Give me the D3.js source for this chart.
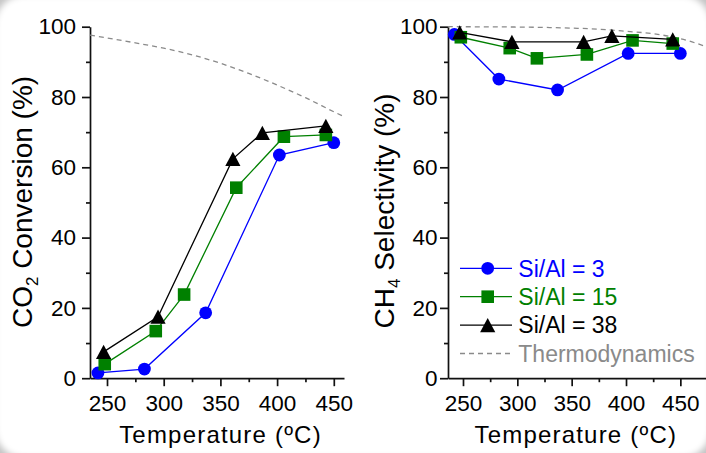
<!DOCTYPE html>
<html lang="en">
<head>
<meta charset="UTF-8">
<title>CO2 conversion and CH4 selectivity</title>
<script src="https://d3js.org/d3.v7.min.js"></script>
<style>
    body { margin: 0; background: #fff; }
    svg { display: block; font-family: 'Liberation Sans', Arial, sans-serif; }
</style>
</head>
<body>
<svg width="706" height="453"></svg>
<script>
    // values
    const xTicks = [250, 300, 350, 400, 450];
    const xMinor = [275, 325, 375, 425];
    const yTicks = [0, 20, 40, 60, 80, 100];
    const yMinor = [10, 30, 50, 70, 90];

    const tempSi3 = [242, 283, 337, 402, 450];
    const convSi3 = [1.5, 2.6, 18.6, 63.5, 67.0];
    const selSi3 = [97.8, 85.1, 82.0, 92.4, 92.4];

    const tempSi15 = [248, 293, 318, 364, 406, 443];
    const convSi15 = [4.0, 13.4, 23.8, 54.2, 68.7, 69.2];
    const selSi15 = [97.0, 93.9, 91.0, 92.1, 96.1, 95.2];

    const tempSi38 = [247, 295, 361, 387, 443];
    const convSi38 = [7.5, 17.5, 62.4, 69.8, 71.8];
    const selSi38 = [98.4, 95.7, 95.7, 97.4, 96.4];

    const thermoTempConv = [235, 275, 300, 325, 350, 375, 400, 425, 450, 459];
    const thermoConv = [97.6, 95.4, 93.9, 92.0, 89.6, 86.7, 83.4, 79.8, 75.8, 74.4];
    const thermoTempSel = [236, 300, 350, 375, 400, 425, 450, 474];
    const thermoSel = [100, 99.9, 99.6, 99.3, 98.7, 98.0, 96.6, 94.3];

    const seriesNames = ["Si/Al = 3", "Si/Al = 15", "Si/Al = 38"];
    const thermoName = "Thermodynamics";

    const colors = ["#0000ff", "#008000", "#000000"];
    const thermoColor = "#8a8a8a";

    // triangle centred on its bounding box
    const triangleBox = {
        draw(ctx, size) {
            const w = Math.sqrt(size), h = w * 0.93;
            ctx.moveTo(0, -h / 2);
            ctx.lineTo(w / 2, h / 2);
            ctx.lineTo(-w / 2, h / 2);
            ctx.closePath();
        }
    };
    const shapes = [
        d3.symbol().type(d3.symbolCircle).size(Math.PI * 6.4 * 6.4),
        d3.symbol().type(d3.symbolSquare).size(12.6 * 12.6),
        d3.symbol().type(triangleBox).size(15.2 * 15.2)
    ];

    const svg = d3.select("svg");

    // card background with soft corners
    const defs = svg.append("defs");
    defs.append("filter").attr("id", "soft")
        .append("feGaussianBlur").attr("stdDeviation", 3);
    svg.append("rect").attr("width", 706).attr("height", 453).attr("fill", "#c4c4c4");
    svg.append("rect")
        .attr("x", -5).attr("y", -5).attr("width", 716).attr("height", 463)
        .attr("rx", 30).attr("fill", "#fff")
        .attr("filter", "url(#soft)");

    const panels = [
        {
            xDomain: [235, 459], xRange: [90, 344],
            thermoT: thermoTempConv, thermoV: thermoConv,
            values: [convSi3, convSi15, convSi38],
            title: ["CO", "2", " Conversion (%)"],
            titlePos: [32, 202], xTitleX: 220.5, labelPad: 6
        },
        {
            xDomain: [236.2, 473.6], xRange: [448, 706],
            thermoT: thermoTempSel, thermoV: thermoSel,
            values: [selSi3, selSi15, selSi38],
            title: ["CH", "4", " Selectivity (%)"],
            titlePos: [393.5, 211], xTitleX: 575.8, labelPad: 2.5
        }
    ];
    const temps = [tempSi3, tempSi15, tempSi38];

    const y = d3.scaleLinear().domain([0, 100]).range([378.2, 26.7]);

    panels.forEach(p => {
        const x = d3.scaleLinear().domain(p.xDomain).range(p.xRange);
        const g = svg.append("g");
        const x0 = p.xRange[0];

        // axes
        g.append("g")
            .attr("transform", `translate(0,${y(0)})`)
            .call(d3.axisBottom(x).tickValues(xTicks).tickSize(8).tickSizeOuter(0).tickPadding(9.3));
        g.append("g")
            .attr("transform", `translate(0,${y(0)})`)
            .call(d3.axisBottom(x).tickValues(xMinor).tickSize(4).tickFormat(""))
            .call(a => a.select(".domain").remove());
        g.append("g")
            .attr("transform", `translate(${x0},0)`)
            .call(d3.axisLeft(y).tickValues(yTicks).tickSize(8).tickSizeOuter(0).tickPadding(p.labelPad));
        g.append("g")
            .attr("transform", `translate(${x0},0)`)
            .call(d3.axisLeft(y).tickValues(yMinor).tickSize(4).tickFormat(""))
            .call(a => a.select(".domain").remove());

        g.selectAll(".domain, .tick line").attr("stroke", "#111").attr("stroke-width", 1.7);
        g.selectAll(".tick text").attr("fill", "#000").style("font-size", "22.5px")
            .style("font-family", "'Liberation Sans', Arial, sans-serif");

        // axis titles
        g.append("text")
            .attr("x", p.xTitleX).attr("y", 443.3)
            .attr("text-anchor", "middle")
            .style("font-size", "24px").style("letter-spacing", "1.2px")
            .text("Temperature (ºC)");

        const t = g.append("text")
            .attr("transform", `translate(${p.titlePos[0]},${p.titlePos[1]}) rotate(-90)`)
            .attr("text-anchor", "middle")
            .style("font-size", "28px");
        t.append("tspan").text(p.title[0]);
        t.append("tspan").attr("dy", 6).style("font-size", "17px").text(p.title[1]);
        t.append("tspan").attr("dy", -6).text(p.title[2]);

        // thermodynamic limit
        g.append("path")
            .datum(p.thermoT.map((d, i) => [d, p.thermoV[i]]))
            .attr("fill", "none")
            .attr("stroke", thermoColor)
            .attr("stroke-width", 1.3)
            .attr("stroke-dasharray", "5,4")
            .attr("d", d3.line().curve(d3.curveMonotoneX).x(d => x(d[0])).y(d => y(d[1])));

        // series
        p.values.forEach((vals, s) => {
            const pts = temps[s].map((d, i) => [d, vals[i]]);
            g.append("path")
                .datum(pts)
                .attr("fill", "none")
                .attr("stroke", colors[s])
                .attr("stroke-width", 1.3)
                .attr("d", d3.line().x(d => x(d[0])).y(d => y(d[1])));
            g.selectAll(null)
                .data(pts)
                .join("path")
                .attr("transform", d => `translate(${x(d[0])},${y(d[1])})`)
                .attr("d", shapes[s])
                .attr("fill", colors[s]);
        });
    });

    // legend (right panel)
    const legend = svg.append("g").attr("transform", "translate(460,268.3)");
    const rowH = 28.4;
    seriesNames.forEach((name, i) => {
        const row = legend.append("g").attr("transform", `translate(0,${i * rowH})`);
        row.append("line").attr("x1", 0).attr("x2", 52)
            .attr("stroke", colors[i]).attr("stroke-width", 1.3);
        row.append("path").attr("transform", "translate(27.7,0)")
            .attr("d", shapes[i]).attr("fill", colors[i]);
        row.append("text").attr("x", 58.3).attr("y", 8.2)
            .attr("fill", colors[i]).style("font-size", "23px").text(name);
    });
    const th = legend.append("g").attr("transform", `translate(0,${3 * rowH})`);
    th.append("line").attr("x1", 0).attr("x2", 52)
        .attr("stroke", thermoColor).attr("stroke-width", 1.3).attr("stroke-dasharray", "5,4");
    th.append("text").attr("x", 58.3).attr("y", 8.2)
        .attr("fill", thermoColor).style("font-size", "23px").text(thermoName);
</script>
</body>
</html>
